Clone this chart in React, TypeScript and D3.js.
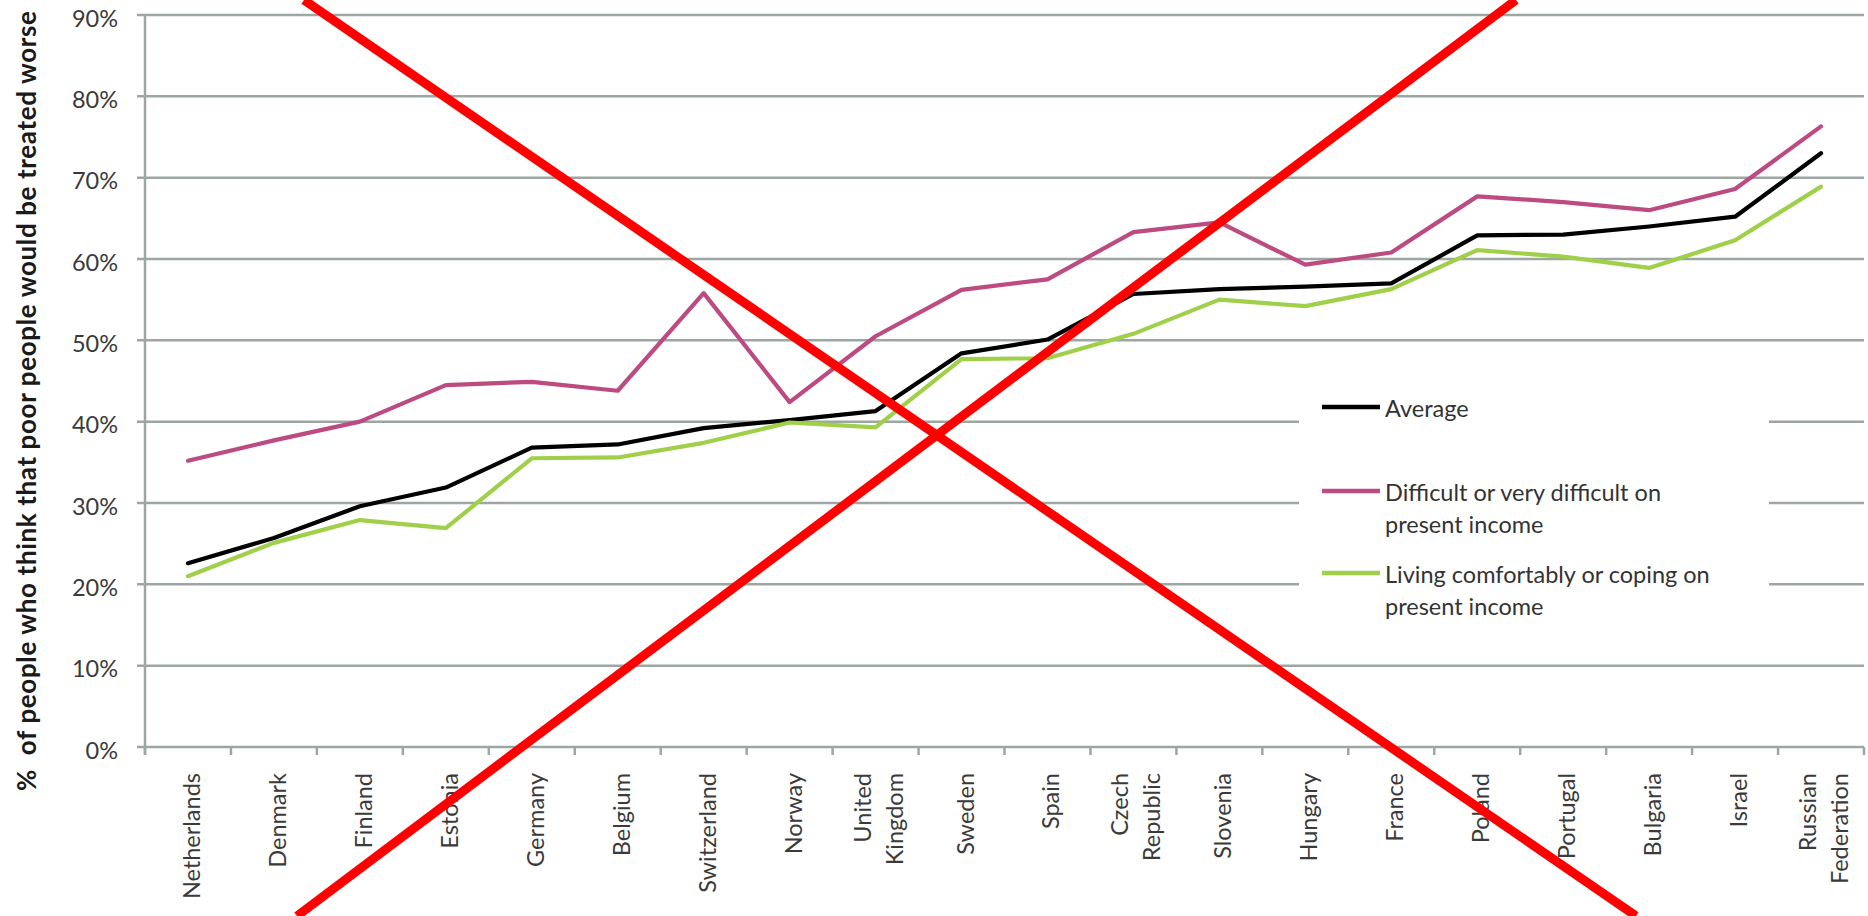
import React from "react";
import * as d3 from "d3";

const categories = [
  "Netherlands", "Denmark", "Finland", "Estonia", "Germany", "Belgium",
  "Switzerland", "Norway", "United Kingdom", "Sweden", "Spain", "Czech Republic",
  "Slovenia", "Hungary", "France", "Poland", "Portugal", "Bulgaria", "Israel",
  "Russian Federation",
];

const average = [22.6, 25.7, 29.6, 31.9, 36.8, 37.2, 39.2, 40.2, 41.3, 48.4, 50.1, 55.7, 56.3, 56.6, 57.0, 62.9, 63.0, 64.0, 65.2, 73.0];
const difficult = [35.2, 37.7, 40.0, 44.5, 44.9, 43.8, 55.8, 42.4, 50.5, 56.2, 57.5, 63.3, 64.5, 59.3, 60.8, 67.7, 67.0, 66.0, 68.6, 76.3];
const comfortable = [21.0, 25.1, 27.9, 26.9, 35.5, 35.6, 37.4, 39.9, 39.3, 47.7, 47.8, 50.8, 55.0, 54.2, 56.3, 61.1, 60.3, 58.9, 62.3, 68.9];

const yTicks = [0, 10, 20, 30, 40, 50, 60, 70, 80, 90];

const seriesNames = [
  ["Average"],
  ["Difficult or very difficult on", "present income"],
  ["Living comfortably or coping on", "present income"],
];

const W = 1868;
const H = 916;
const FONT = "Lato, 'Open Sans', sans-serif";
const GRID = "#9ca6a3";

export default function App() {
  const x = d3.scaleBand<string>().domain(categories).range([145, 1864]);
  const y = d3.scaleLinear().domain([0, 90]).range([747, 15]);
  const bw = x.bandwidth();
  const cx = (i: number) => (x(categories[i]) as number) + bw / 2;
  const line = d3
    .line<number>()
    .x((_, i) => cx(i))
    .y((d) => y(d));

  const series = [
    { values: average, color: "#000000" },
    { values: difficult, color: "#bc4b82" },
    { values: comfortable, color: "#a0cf4a" },
  ];

  const boundaries = d3.range(categories.length + 1).map((i) => 145 + i * bw);

  const legendBase = [417, 501, 583];

  return (
    <div style={{ position: "absolute", left: 0, top: 0 }}>
      <svg width={W} height={H} style={{ display: "block", background: "#fff" }}>
        <rect x={0} y={0} width={W} height={H} fill="#fff" />
        {/* gridlines */}
        {yTicks.map((t) => (
          <line key={"g" + t} x1={137} x2={1864} y1={y(t)} y2={y(t)} stroke={GRID} strokeWidth={2.5} />
        ))}
        {/* y axis */}
        <line x1={145} x2={145} y1={y(90)} y2={755} stroke={GRID} strokeWidth={2.5} />
        {boundaries.map((b, i) => (
          <line key={"t" + i} x1={b} x2={b} y1={y(0)} y2={755} stroke={GRID} strokeWidth={2.5} />
        ))}
        {/* y tick labels */}
        {yTicks.map((t) => (
          <text key={"yl" + t} x={118} y={y(t) + 11.5} textAnchor="end" fontFamily={FONT} fontSize={23.5} fill="#3a3a3a">
            {t + "%"}
          </text>
        ))}
        {/* x labels */}
        {categories.map((c, i) => {
          const parts = c.includes(" ") ? c.split(" ") : [c];
          return (
            <g key={"xl" + c} transform={`translate(${cx(i)},773) rotate(-90)`}>
              {parts.length === 1 ? (
                <text x={0} y={12} textAnchor="end" fontFamily={FONT} fontSize={23.5} fill="#3a3a3a">
                  {c}
                </text>
              ) : (
                parts.map((p, j) => (
                  <text key={p} x={0} y={-5 + j * 32} textAnchor="end" fontFamily={FONT} fontSize={23.5} fill="#3a3a3a">
                    {p}
                  </text>
                ))
              )}
            </g>
          );
        })}
        {/* y title */}
        <text
          transform="translate(36,401) rotate(-90)"
          textAnchor="middle"
          fontFamily={FONT}
          fontWeight={700}
          fontSize={26}
          fill="#1a1a1a"
          textLength={780}
          lengthAdjust="spacing"
        >
          {"%\u00A0 of people who think that poor people would be treated worse"}
        </text>
        {/* series */}
        {series.map((s, k) => (
          <path key={"s" + k} d={line(s.values) || ""} fill="none" stroke={s.color} strokeWidth={4.2} strokeLinejoin="round" strokeLinecap="round" />
        ))}
        {/* legend */}
        <rect x={1299} y={372} width={470} height={266} fill="#fff" />
        {series.map((s, k) => (
          <g key={"lg" + k}>
            <line x1={1322} x2={1380} y1={legendBase[k] - 10} y2={legendBase[k] - 10} stroke={s.color} strokeWidth={4.5} />
            {seriesNames[k].map((n, j) => (
              <text key={n + j} x={1385} y={legendBase[k] + j * 32} fontFamily={FONT} fontSize={23.5} fill="#333">
                {n}
              </text>
            ))}
          </g>
        ))}
        {/* red cross */}
        <line x1={304} y1={0} x2={1636} y2={916} stroke="#ff0000" strokeWidth={9} />
        <line x1={1516} y1={0} x2={297} y2={916} stroke="#ff0000" strokeWidth={9} />
      </svg>
    </div>
  );
}
